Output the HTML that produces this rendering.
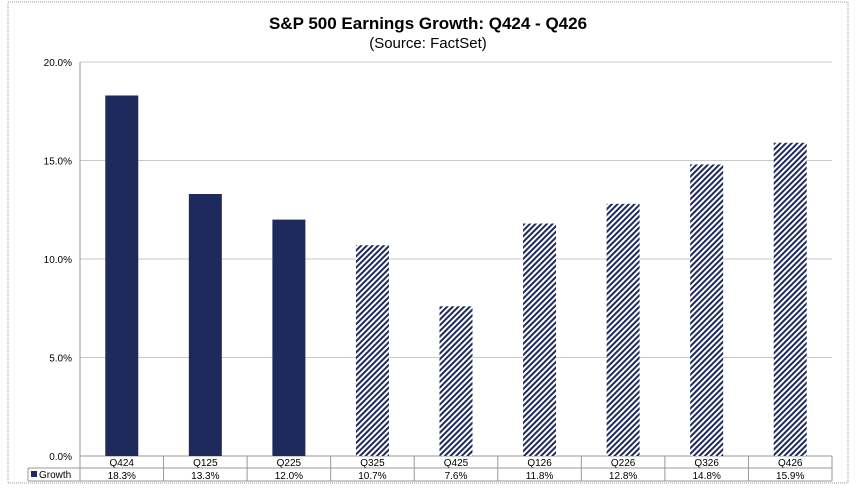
<!DOCTYPE html>
<html><head><meta charset="utf-8"><style>
body{margin:0;background:#fff;font-family:"Liberation Sans",Arial,sans-serif}
svg text{font-family:"Liberation Sans",Arial,sans-serif}
</style></head><body>
<svg id="c" width="856" height="495" xmlns="http://www.w3.org/2000/svg">
<defs>
<pattern id="hatch" patternUnits="userSpaceOnUse" width="4" height="4" patternTransform="rotate(45)">
<rect width="4" height="4" fill="#fff"/><rect width="2" height="4" fill="#1f2a5c"/>
</pattern>
</defs>
<rect x="8" y="2" width="840" height="481" fill="#fff" stroke="#999" stroke-dasharray="1,1"/>
<text x="428" y="29" text-anchor="middle" font-size="17" font-weight="bold">S&amp;P 500 Earnings Growth: Q424 - Q426</text>
<text x="428" y="48" text-anchor="middle" font-size="15">(Source: FactSet)</text>
<g id="grid"></g><g id="bars"></g><g id="table"></g>
</svg>
<script>
const categories=["Q424","Q125","Q225","Q325","Q425","Q126","Q226","Q326","Q426"];
const growth=[18.3,13.3,12.0,10.7,7.6,11.8,12.8,14.8,15.9];
const actual=[true,true,true,false,false,false,false,false,false];
const ticks=[0,5,10,15,20];
const NS="http://www.w3.org/2000/svg";
const X0=80,X1=832,Y0=456,Y1=62,MAX=20;
const bw=(X1-X0)/categories.length;
const y=v=>Y0-(v/MAX)*(Y0-Y1);
const xc=i=>X0+bw*(i+0.5);
function mk(tag,attrs,parent){const e=document.createElementNS(NS,tag);for(const k in attrs)e.setAttribute(k,attrs[k]);parent.appendChild(e);return e;}
const grid=document.getElementById('grid'),bars=document.getElementById('bars'),tbl=document.getElementById('table');
ticks.forEach(t=>{
 const l=mk('line',{x1:X0,x2:X1,y1:y(t),y2:y(t),stroke:t===0?'#999':'#c8c8c8','stroke-width':1},grid);
 
 
 const tx=mk('text',{x:X0-8,y:y(t)+4,'text-anchor':'end','font-size':10},grid);
 tx.textContent=t.toFixed(1)+'%';
 
 
});
mk('line',{x1:X0,x2:X0,y1:Y1,y2:Y0,stroke:'#999'},grid);
categories.forEach((c,i)=>{
 const r=mk('rect',{x:xc(i)-16.5,y:y(growth[i]),width:33,height:Y0-y(growth[i]),fill:actual[i]?'#1f2a5c':'url(#hatch)'},bars);
 
 
 const t=mk('text',{x:xc(i),y:466,'text-anchor':'middle','font-size':10},tbl);
 t.textContent=c;
 
 
 const v=mk('text',{x:xc(i),y:479,'text-anchor':'middle','font-size':10},tbl);
 v.textContent=growth[i].toFixed(1)+'%';
 
 
 mk('line',{x1:X0+bw*(i+1),x2:X0+bw*(i+1),y1:Y0,y2:481,stroke:'#999'},tbl);
});
mk('line',{x1:X0,x2:X1,y1:468,y2:468,stroke:'#999'},tbl);
mk('line',{x1:28,x2:X1,y1:481,y2:481,stroke:'#999'},tbl);
mk('line',{x1:28,x2:X0,y1:468,y2:468,stroke:'#999'},tbl);
mk('line',{x1:28,x2:28,y1:468,y2:481,stroke:'#999'},tbl);
mk('line',{x1:X0,x2:X0,y1:Y0,y2:481,stroke:'#999'},tbl);
const lk=mk('rect',{x:31,y:471,width:6,height:6,fill:'#1f2a5c'},tbl);


const lt=mk('text',{x:39,y:478,'font-size':10},tbl);
lt.textContent='Growth';


</script>
</body></html>
